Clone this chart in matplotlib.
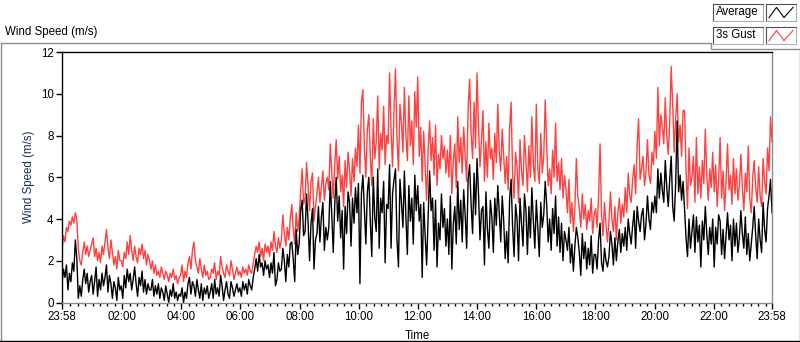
import numpy as np
from matplotlib import pyplot as plt
from matplotlib.lines import Line2D

# Wind speed over one day, 20 readings per hour (3 min), starting 23:58
gust = [
    2.5, 3.2, 2.9, 3.6, 3.4, 3.9, 3.7, 4.1, 3.8, 4.3, 4.0, 2.6, 2.0, 1.8, 2.4, 2.9, 2.3, 2.7, 2.2, 2.5,
    2.8, 3.1, 2.2, 2.6, 2.0, 2.4, 1.9, 2.7, 2.3, 2.9, 3.5, 2.6, 2.1, 3.0, 2.4, 1.8, 2.2, 1.6, 2.5, 2.0,
    2.0, 1.7, 2.4, 2.1, 2.9, 2.3, 3.2, 2.5, 2.0, 2.7, 2.2, 1.9, 2.6, 2.3, 2.8, 2.1, 2.5, 1.8, 2.3, 2.0,
    1.6, 2.0, 1.4, 1.8, 1.3, 1.5, 1.2, 1.7, 1.4, 1.1, 1.5, 1.3, 1.0, 1.4, 1.2, 1.6, 1.1, 1.3, 0.9, 1.2,
    1.3, 1.8, 1.0, 1.5, 1.2, 1.9, 2.2, 1.6, 2.5, 2.9, 2.0, 1.7, 1.4, 2.1, 1.6, 1.2, 1.8, 1.3, 1.5, 1.1,
    1.2, 1.6, 1.4, 1.9, 1.1, 1.5, 1.3, 2.2, 1.7, 1.4, 1.2, 1.8, 1.5, 1.3, 2.0, 1.6, 1.1, 1.4, 1.7, 1.3,
    1.5, 1.2, 1.7, 1.4, 1.6, 1.3, 1.8, 1.5, 1.4, 1.9, 2.3, 2.7, 2.4, 2.9, 2.2, 2.6, 2.0, 2.8, 2.4, 2.7,
    2.2, 2.9, 2.5, 3.4, 2.7, 2.4, 3.1, 2.6, 3.0, 4.2, 3.3, 2.7, 3.6, 3.0, 4.0, 4.7, 3.5, 2.8, 4.3, 3.4,
    4.1, 5.3, 6.4, 4.7, 5.0, 6.7, 5.6, 4.4, 5.8, 6.2, 3.9, 4.6, 5.2, 6.0, 4.8, 5.5, 6.3, 4.9, 5.7, 6.0,
    5.4, 7.6, 6.2, 5.0, 6.6, 7.8, 5.9, 7.0, 5.3, 6.1, 4.6, 6.8, 5.5, 7.2, 6.3, 5.1, 6.9, 5.8, 7.4, 6.5,
    8.5, 6.2, 9.6, 10.2, 7.4, 6.0, 8.3, 9.0, 7.0, 5.6, 8.8, 6.9, 7.7, 9.9, 6.4, 8.1, 7.3, 9.4, 6.6, 8.0,
    7.6, 11.0, 8.2, 6.5, 9.3, 11.2, 7.9, 6.3, 9.5, 8.6, 7.2, 10.3, 8.0, 6.8, 9.9, 7.5, 8.7, 6.6, 10.1, 8.4,
    10.8, 7.0, 8.4, 5.8, 8.2, 6.5, 4.9, 7.3, 8.7, 6.8, 7.9, 6.1, 8.5, 5.6, 7.1, 6.4, 8.0, 6.9, 7.5, 6.2,
    7.3, 6.0, 8.0, 5.2, 6.8, 7.6, 5.5, 8.9, 6.7, 7.9, 6.2, 8.4, 7.0, 5.8, 9.3, 10.7, 8.1, 6.9, 9.6, 7.4,
    11.0, 8.4, 6.5, 7.8, 9.2, 5.8, 7.7, 6.0, 8.6, 6.9, 7.4, 5.9, 8.1, 6.7, 9.5, 7.2, 6.3, 8.3, 7.0, 5.7,
    7.0, 5.4, 8.4, 9.6, 6.1, 5.0, 7.2, 6.5, 4.8, 7.8, 6.3, 5.6, 8.0, 6.8, 5.3, 7.5, 6.0, 8.9, 6.6, 5.8,
    9.5, 6.4, 5.7, 8.1, 6.2, 7.0, 9.7, 7.5, 5.6, 6.4, 5.2, 7.3, 6.0, 8.6, 5.8, 6.7, 5.4, 6.9, 5.0, 6.1,
    5.4, 4.3, 5.9, 3.8, 4.8, 3.4, 4.5, 6.9, 5.1, 4.5, 3.6, 5.2, 4.0, 4.7, 3.5, 4.4, 3.9, 5.0, 3.3, 4.2,
    4.5, 3.6, 5.1, 7.6, 4.2, 3.2, 4.8, 3.7, 2.9, 3.9, 5.3, 4.0, 3.4, 4.6, 3.0, 4.3, 5.0, 3.8, 4.7, 4.1,
    5.5, 4.3, 6.2, 5.1, 4.8, 5.9, 6.6, 5.2, 7.5, 8.8, 5.9, 6.4, 7.0, 5.6, 6.3, 7.8, 6.1, 5.7, 7.2, 6.6,
    8.2, 6.9, 10.3, 7.5, 9.0, 8.4, 7.6, 9.8, 8.0, 7.1, 8.7, 11.3, 9.5, 7.2, 8.8, 10.0, 7.7, 8.5, 7.0, 9.2,
    9.2, 6.3, 4.5, 7.4, 5.6, 6.0, 7.0, 4.8, 7.9, 5.2, 6.5, 5.0, 6.8, 5.7, 8.3, 6.1, 4.9, 6.4, 5.5, 7.2,
    5.3, 6.6, 4.6, 5.9, 7.9, 5.0, 6.3, 4.4, 5.8, 7.6, 5.4, 6.1, 4.7, 6.9, 5.2, 6.4, 4.9, 5.6, 7.1, 5.5,
    4.4, 6.2, 5.3, 7.5, 5.0, 4.3, 6.0, 6.8, 5.5, 4.8, 6.5, 5.1, 4.6, 6.9, 5.8, 5.2, 7.4, 6.3, 8.9, 7.7,
]
average = [
    0.9, 1.6, 1.2, 1.8, 0.6, 1.4, 1.0, 1.9, 1.5, 3.0, 2.1, 0.2, 0.8, 0.3, 1.1, 1.6, 0.9, 1.4, 0.5, 1.0,
    1.3, 0.4, 1.0, 1.7, 0.3, 1.1, 0.6, 1.4, 0.8, 1.2, 1.8, 0.5, 1.3, 0.9, 0.2, 1.0, 0.7, 0.1, 1.2, 0.6,
    0.8, 0.2, 1.3, 0.7, 1.6, 1.0, 1.4, 0.6, 1.1, 1.7, 0.9, 0.3, 1.2, 0.8, 1.5, 0.5, 1.1, 0.4, 0.9, 0.6,
    0.6, 1.1, 0.3, 0.8, 0.4, 0.9, 0.2, 0.7, 0.5, 0.1, 0.8, 0.4, 0.0, 0.6, 0.3, 0.9, 0.2, 0.5, 0.1, 0.4,
    0.3, 0.7, 0.0, 0.5, 0.2, 0.9, 1.2, 0.4, 1.0, 0.8, 0.3, 1.1, 0.6, 0.2, 0.9, 0.1, 0.7, 0.4, 0.8, 0.2,
    0.5, 0.9, 0.2, 1.1, 0.4, 0.7, 0.3, 1.3, 0.8, 0.1, 0.6, 1.0, 0.4, 0.2, 1.0, 0.7, 0.3, 0.6, 0.9, 0.5,
    0.7, 0.3, 1.0, 0.6, 0.9, 0.4, 1.1, 0.8, 0.6, 1.2, 1.6, 2.1, 1.5, 2.3, 1.7, 1.9, 1.3, 2.0, 1.6, 1.8,
    1.2, 1.9, 1.4, 2.4, 0.8, 1.1, 1.9, 1.5, 1.6, 2.6, 2.0, 1.0, 2.3, 1.7, 2.8, 2.9, 2.1, 1.0, 3.5, 2.3,
    2.8, 4.4, 4.9, 3.2, 3.4, 5.2, 3.9, 2.0, 3.8, 4.5, 1.6, 3.0, 3.3, 4.6, 2.9, 4.1, 4.8, 2.5, 3.6, 3.0,
    3.6, 5.8, 4.2, 2.4, 4.7, 6.0, 3.9, 5.1, 3.1, 4.4, 1.6, 4.6, 3.3, 5.3, 4.8, 2.7, 5.0, 3.8, 5.5, 4.3,
    5.7, 0.9, 5.2, 6.1, 4.4, 2.8, 5.3, 6.0, 3.9, 2.2, 6.0, 4.1, 3.4, 6.4, 2.6, 5.0, 4.3, 5.8, 1.9, 4.7,
    4.5, 6.6, 2.6, 5.2, 5.9, 6.4, 3.0, 1.7, 5.9, 4.8, 3.6, 6.3, 4.1, 2.3, 5.6, 3.9, 5.0, 2.8, 6.1, 4.4,
    5.6, 3.9, 4.7, 1.2, 4.8, 3.2, 1.8, 4.1, 6.3, 4.4, 5.0, 2.5, 4.9, 1.7, 3.8, 3.0, 5.2, 3.6, 4.5, 2.7,
    4.0, 2.3, 5.1, 1.6, 3.8, 4.6, 2.8, 5.8, 3.5, 4.9, 2.9, 5.4, 4.2, 2.6, 5.9, 6.6, 4.7, 3.3, 6.2, 4.2,
    6.9, 5.2, 3.0, 4.4, 4.6, 1.8, 5.3, 3.5, 2.6, 4.9, 4.1, 2.4, 5.0, 3.7, 5.6, 4.3, 2.9, 5.1, 3.9, 2.1,
    3.4, 1.9, 5.0, 5.9, 3.6, 2.2, 4.7, 4.0, 2.0, 5.0, 3.8, 2.7, 5.2, 4.4, 2.3, 4.6, 3.1, 5.5, 3.9, 2.6,
    4.9, 3.5, 2.2, 4.8, 3.6, 4.2, 5.8, 4.7, 2.9, 4.0, 2.5, 4.5, 3.3, 5.1, 2.7, 4.1, 2.4, 3.8, 2.0, 3.4,
    3.0, 2.5, 3.6, 1.9, 2.8, 1.5, 2.7, 3.6, 3.1, 2.4, 1.3, 3.3, 2.1, 2.9, 1.6, 2.6, 1.8, 3.2, 1.4, 2.3,
    2.3, 1.6, 3.0, 3.8, 1.9, 1.5, 2.6, 2.0, 1.7, 2.2, 3.4, 2.8, 1.8, 3.1, 2.0, 2.9, 3.5, 2.4, 3.3, 2.7,
    3.6, 2.5, 4.0, 3.3, 2.8, 3.7, 4.4, 2.6, 4.6, 3.9, 3.4, 4.2, 4.5, 3.0, 3.8, 5.1, 4.0, 3.5, 4.8, 4.3,
    5.1, 4.3, 6.4, 5.0, 6.2, 5.4, 4.8, 6.8, 5.5, 4.6, 5.9, 7.0, 4.6, 3.9, 5.7, 8.7, 5.3, 6.1, 4.9, 5.8,
    4.5, 3.1, 2.2, 4.0, 2.6, 3.4, 4.2, 2.4, 4.1, 2.9, 3.7, 1.7, 3.9, 3.0, 4.6, 3.3, 2.3, 3.6, 2.8, 4.0,
    1.7, 3.6, 2.8, 4.2, 3.9, 2.3, 3.5, 2.1, 3.2, 4.3, 3.0, 3.7, 2.0, 4.0, 2.7, 3.8, 2.4, 3.1, 4.4, 3.3,
    2.6, 4.1, 2.3, 3.3, 2.0, 2.8, 3.6, 4.6, 3.2, 2.1, 4.0, 3.0, 2.4, 4.8, 3.5, 2.9, 4.5, 5.1, 5.9, 4.3,
]
# hours since 23:58
hours = np.arange(len(gust)) * 24.0 / (len(gust) - 1)
tick_hours = [0, 2 + 2/60, 4 + 2/60, 6 + 2/60, 8 + 2/60, 10 + 2/60, 12 + 2/60,
              14 + 2/60, 16 + 2/60, 18 + 2/60, 20 + 2/60, 22 + 2/60, 24]
tick_labels = ["23:58", "02:00", "04:00", "06:00", "08:00", "10:00", "12:00",
               "14:00", "16:00", "18:00", "20:00", "22:00", "23:58"]

plt.rcParams['font.family'] = ['Liberation Sans', 'DejaVu Sans']
red = '#ff4040'
grey = '#8c8c8c'

fig = plt.figure(figsize=(8, 3.42), dpi=100)
W, H = 800, 342

def fx(px):
    return px / W

def fy(py):
    return 1 - py / H

# outer panel frame
fig.add_artist(Line2D([fx(0.5), fx(711), fx(711), fx(799.5), fx(799.5)],
                      [fy(42.5), fy(42.5), fy(48.5), fy(48.5), fy(340.5)],
                      color=grey, lw=1))
fig.add_artist(Line2D([fx(0.5), fx(0.5)], [fy(42.5), fy(340.5)], color=grey, lw=1))
fig.add_artist(Line2D([fx(0), fx(800)], [fy(340.5), fy(340.5)], color='black', lw=1))
fig.text(fx(5), fy(32), "Wind Speed (m/s)", fontsize=8.3, va='center', ha='left')

ax = fig.add_axes([fx(62), fy(302.5), fx(772 - 62), (302.5 - 52) / H])
ax.plot(hours, gust, color=red, lw=1.0)
ax.plot(hours, average, color='black', lw=1.0)
ax.set_xlim(0, 24)
ax.set_ylim(0, 12)
ax.set_yticks(range(0, 13, 2))
ax.set_xticks(tick_hours)
ax.set_xticklabels(tick_labels)
ax.set_xticks(np.arange(0.25, 24, 0.25) + 2/60, minor=True)
ax.tick_params(labelsize=8.3, length=4, width=1, color='black', pad=2)
ax.tick_params(axis='x', which='minor', length=2.5, width=1, color='black')
ax.spines['left'].set_color('black')
ax.spines['top'].set_color('black')
ax.spines['right'].set_color(grey)
ax.spines['bottom'].set_color(grey)
for s in ax.spines.values():
    s.set_linewidth(1)
ax.set_ylabel("Wind Speed (m/s)", fontsize=8.3, color='#1c2a5c', labelpad=4)
ax.set_xlabel("Time", fontsize=8.3, labelpad=5)

# legend: name boxes and line sample boxes
for row, (name, col) in enumerate([("Average", 'black'), ("3s Gust", red)]):
    top = 4 + row * 23
    fig.text(fx(716), fy(top + 8.5), name, fontsize=8.3, va='center', ha='left')
    box = fig.add_axes([fx(713), fy(top + 17), fx(50), 17 / H])
    box.set_xticks([])
    box.set_yticks([])
    samp = fig.add_axes([fx(766), fy(top + 17), fx(30), 17 / H])
    samp.plot([0.1, 0.35, 0.6, 0.9], [0.2, 0.8, 0.2, 0.8], color=col, lw=0.8)
    samp.set_xlim(0, 1)
    samp.set_ylim(0, 1)
    samp.set_xticks([])
    samp.set_yticks([])
    for a in (box, samp):
        a.patch.set_alpha(0)
        a.spines['left'].set_color('#505050')
        a.spines['top'].set_color('#505050')
        a.spines['right'].set_color('#b0b0b0')
        a.spines['bottom'].set_color('#b0b0b0')

fig.savefig("out.png", dpi=100)
